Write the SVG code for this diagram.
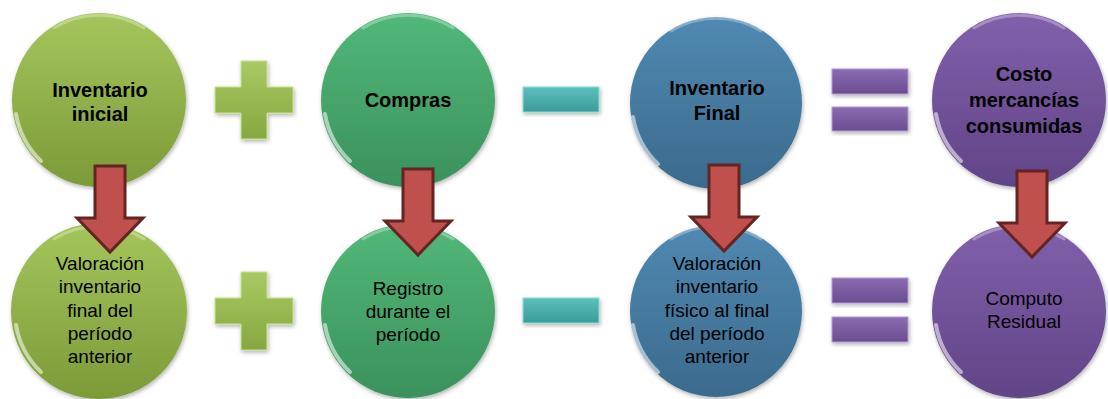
<svg xmlns="http://www.w3.org/2000/svg" width="1108" height="399" viewBox="0 0 1108 399">
<style>
.t{font-family:"Liberation Sans",Arial,sans-serif;fill:#000;text-anchor:middle}
.b{font-weight:bold;font-size:20px}
.n{font-size:19px}
.hl{fill:none;stroke:#fff;stroke-opacity:.55;stroke-width:4;stroke-linecap:round}
.ht{fill:none;stroke:#fff;stroke-opacity:.3;stroke-width:3;stroke-linecap:round}
.arrow{fill:#c0504d;stroke:#632523;stroke-width:3;stroke-linejoin:miter}
</style>
<defs>
<linearGradient id="g1" x1="0" y1="0" x2="0" y2="1"><stop offset="0" stop-color="#a5c55c"/><stop offset="1" stop-color="#7c9b38"/></linearGradient>
<linearGradient id="g2" x1="0" y1="0" x2="0" y2="1"><stop offset="0" stop-color="#52b878"/><stop offset="1" stop-color="#3a915d"/></linearGradient>
<linearGradient id="g3" x1="0" y1="0" x2="0" y2="1"><stop offset="0" stop-color="#5089b2"/><stop offset="1" stop-color="#3b6a8c"/></linearGradient>
<linearGradient id="g4" x1="0" y1="0" x2="0" y2="1"><stop offset="0" stop-color="#8160ab"/><stop offset="1" stop-color="#614487"/></linearGradient>
<linearGradient id="gp" x1="0" y1="0" x2="0" y2="1"><stop offset="0" stop-color="#a9c964"/><stop offset="1" stop-color="#86a83f"/></linearGradient>
<linearGradient id="gm" x1="0" y1="0" x2="0" y2="1"><stop offset="0" stop-color="#5cc0bc"/><stop offset="1" stop-color="#3a9c98"/></linearGradient>
<linearGradient id="ge" x1="0" y1="0" x2="0" y2="1"><stop offset="0" stop-color="#8b6bb3"/><stop offset="1" stop-color="#6a4d90"/></linearGradient>
<filter id="sh" x="-20%" y="-20%" width="140%" height="140%"><feDropShadow dx="1" dy="2" stdDeviation="2" flood-color="#000" flood-opacity=".3"/></filter>
<path id="plus" d="M -13 -39 H 13 V -13 H 39 V 13 H 13 V 39 H -13 V 13 H -39 V -13 H -13 Z"/>
<path id="arr" d="M -15 -86 H 15 V -34 H 33 L 0 0 L -33 -34 H -15 Z"/>
<g id="hls">
<path class="hl" d="M -58 61 A 84 84 0 0 1 -83 14"/>
<path class="ht" d="M -45 -72 A 86 86 0 0 1 45 -72"/>
</g>
</defs>

<g id="operators">
<use href="#plus" x="254" y="100" fill="url(#gp)" stroke="#c9e08f" stroke-width="1" filter="url(#sh)"/>
<use href="#plus" x="254" y="311" fill="url(#gp)" stroke="#c9e08f" stroke-width="1" filter="url(#sh)"/>
<rect x="523" y="87" width="76" height="25" fill="url(#gm)" stroke="#8fd9d5" stroke-width="1" filter="url(#sh)"/>
<rect x="523" y="298" width="76" height="25" fill="url(#gm)" stroke="#8fd9d5" stroke-width="1" filter="url(#sh)"/>
<rect x="832" y="69" width="76" height="25" fill="url(#ge)" stroke="#b49ad4" stroke-width="1" filter="url(#sh)"/>
<rect x="832" y="107" width="76" height="24" fill="url(#ge)" stroke="#b49ad4" stroke-width="1" filter="url(#sh)"/>
<rect x="832" y="278" width="76" height="25" fill="url(#ge)" stroke="#b49ad4" stroke-width="1" filter="url(#sh)"/>
<rect x="832" y="317" width="76" height="25" fill="url(#ge)" stroke="#b49ad4" stroke-width="1" filter="url(#sh)"/>
</g>

<g id="n1" transform="translate(99,100)">
<circle r="87" fill="url(#g1)" filter="url(#sh)"/><use href="#hls"/>
</g>
<g id="n2" transform="translate(408,100)">
<circle r="87" fill="url(#g2)" filter="url(#sh)"/><use href="#hls"/>
</g>
<g id="n3" transform="translate(716,103)">
<circle r="86" fill="url(#g3)" filter="url(#sh)"/><use href="#hls"/>
</g>
<g id="n4" transform="translate(1019,100)">
<circle r="87" fill="url(#g4)" filter="url(#sh)"/><use href="#hls"/>
</g>
<g id="n5" transform="translate(99,311)">
<circle r="88" fill="url(#g1)" filter="url(#sh)"/><use href="#hls"/>
</g>
<g id="n6" transform="translate(408,311)">
<circle r="87" fill="url(#g2)" filter="url(#sh)"/><use href="#hls"/>
</g>
<g id="n7" transform="translate(716,311)">
<circle r="86" fill="url(#g3)" filter="url(#sh)"/><use href="#hls"/>
</g>
<g id="n8" transform="translate(1019,311)">
<circle r="87" fill="url(#g4)" filter="url(#sh)"/><use href="#hls"/>
</g>

<g id="connectors">
<use href="#arr" class="arrow" x="110" y="252"/>
<use href="#arr" class="arrow" x="418" y="255"/>
<use href="#arr" class="arrow" x="724" y="251"/>
<use href="#arr" class="arrow" x="1032" y="257"/>
</g>

<g id="labels">
<text class="t b" x="100" y="97">Inventario</text>
<text class="t b" x="100" y="121">inicial</text>
<text class="t b" x="408" y="107">Compras</text>
<text class="t b" x="717" y="95">Inventario</text>
<text class="t b" x="717" y="120">Final</text>
<text class="t b" x="1024" y="81">Costo</text>
<text class="t b" x="1024" y="107">mercancías</text>
<text class="t b" x="1024" y="133">consumidas</text>

<text class="t n" x="100" y="270">Valoración</text>
<text class="t n" x="100" y="293">inventario</text>
<text class="t n" x="100" y="317">final del</text>
<text class="t n" x="100" y="340">período</text>
<text class="t n" x="100" y="363">anterior</text>

<text class="t n" x="408" y="295">Registro</text>
<text class="t n" x="408" y="318">durante el</text>
<text class="t n" x="408" y="341">período</text>

<text class="t n" x="717" y="270">Valoración</text>
<text class="t n" x="717" y="293">inventario</text>
<text class="t n" x="717" y="317">físico al final</text>
<text class="t n" x="717" y="340">del período</text>
<text class="t n" x="717" y="363">anterior</text>

<text class="t n" x="1024" y="305">Computo</text>
<text class="t n" x="1024" y="328">Residual</text>
</g>
</svg>
